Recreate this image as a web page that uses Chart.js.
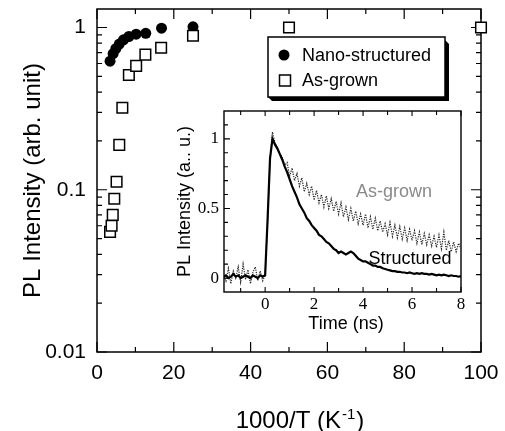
<!DOCTYPE html>
<html>
<head>
<meta charset="utf-8">
<script src="https://cdn.jsdelivr.net/npm/chart.js@4.4.0/dist/chart.umd.min.js"></script>
<style>
  html, body { margin: 0; padding: 0; background: #fff; }
  #wrap { position: relative; width: 505px; height: 431px; }
  #main { position: absolute; left: 0; top: 0; }
  #inset { position: absolute; left: 160px; top: 100px; }
</style>
</head>
<body>
<div id="wrap">
  <canvas id="main" width="505" height="431"></canvas>
  <canvas id="inset" width="320" height="240"></canvas>
</div>
<script>
const SANS = '"Liberation Sans", Arial, sans-serif';
const SERIF = '"Liberation Serif", "Times New Roman", serif';

// main plot: PL intensity vs 1000/T
const nanoX = [3.4, 4.2, 4.9, 5.8, 6.9, 8.3, 10.2, 12.7, 16.8, 25];
const nanoY = [0.62, 0.69, 0.74, 0.79, 0.84, 0.88, 0.91, 0.92, 0.99, 1.01];
const grownX = [3.4, 3.8, 4.1, 4.5, 5.1, 5.8, 6.6, 8.3, 10.2, 12.6, 16.7, 25, 50, 100];
const grownY = [0.055, 0.060, 0.070, 0.088, 0.112, 0.189, 0.32, 0.51, 0.58, 0.68, 0.75, 0.89, 1.0, 1.0];

const xTickMarks = [0, 10, 20, 30, 40, 50, 60, 70, 80, 90, 100];
const yTickValues = [0.01, 0.1, 1];
const yTickLabels = ['0.01', '0.1', '1'];
const yTickMarks = [0.01, 0.02, 0.03, 0.04, 0.05, 0.06, 0.07, 0.08, 0.09,
                    0.1, 0.2, 0.3, 0.4, 0.5, 0.6, 0.7, 0.8, 0.9, 1];

// inset: PL decay curves
const decayTime = [-1.7, -1.6, -1.5, -1.4, -1.3, -1.2, -1.1, -1.0, -0.9, -0.8, -0.7, -0.6, -0.5, -0.4, -0.3, -0.2, -0.1,
  0.0, 0.1, 0.2, 0.3, 0.4, 0.5, 0.6, 0.7, 0.8, 0.9,
  1.0, 1.1, 1.2, 1.3, 1.4, 1.5, 1.6, 1.7, 1.8, 1.9,
  2.0, 2.1, 2.2, 2.3, 2.4, 2.5, 2.6, 2.7, 2.8, 2.9,
  3.0, 3.1, 3.2, 3.3, 3.4, 3.5, 3.6, 3.7, 3.8, 3.9,
  4.0, 4.1, 4.2, 4.3, 4.4, 4.5, 4.6, 4.7, 4.8, 4.9,
  5.0, 5.1, 5.2, 5.3, 5.4, 5.5, 5.6, 5.7, 5.8, 5.9,
  6.0, 6.1, 6.2, 6.3, 6.4, 6.5, 6.6, 6.7, 6.8, 6.9,
  7.0, 7.1, 7.2, 7.3, 7.4, 7.5, 7.6, 7.7, 7.8, 7.9,
  8.0];
const structuredPL = [0.01, 0.02, 0.0, 0.01, 0.03, 0.01, 0.02, 0.0, 0.01, 0.02, 0.01, 0.0, 0.02, 0.01, 0.0, 0.02, 0.01,
  0.02, 0.42, 0.86, 1.0, 0.96, 0.93, 0.89, 0.85, 0.80, 0.76,
  0.71, 0.66, 0.62, 0.58, 0.53, 0.50, 0.47, 0.43, 0.41, 0.38,
  0.36, 0.34, 0.31, 0.30, 0.28, 0.26, 0.25, 0.23, 0.21, 0.20,
  0.18, 0.19, 0.18, 0.17, 0.18, 0.19, 0.18, 0.16, 0.14, 0.13,
  0.12, 0.12, 0.11, 0.10, 0.09, 0.09, 0.08, 0.08, 0.07, 0.065,
  0.06, 0.055, 0.05, 0.05, 0.045, 0.045, 0.04, 0.04, 0.035, 0.04,
  0.035, 0.03, 0.035, 0.03, 0.035, 0.03, 0.03, 0.025, 0.03, 0.025,
  0.02, 0.025, 0.02, 0.025, 0.02, 0.015, 0.02, 0.015, 0.015, 0.01,
  0.015];
const asGrownPL = [0.03, -0.02, 0.07, -0.04, 0.05, 0.0, 0.08, -0.03, 0.10, -0.01, 0.06, -0.04, 0.04, 0.08, -0.02, 0.05, -0.02,
  0.02, 0.40, 0.84, 1.05, 0.97, 0.94, 0.89, 0.87, 0.81, 0.83,
  0.73, 0.79, 0.70, 0.75, 0.66, 0.72, 0.62, 0.68, 0.60, 0.66,
  0.56, 0.63, 0.54, 0.60, 0.51, 0.59, 0.50, 0.57, 0.48, 0.55,
  0.46, 0.54, 0.44, 0.51, 0.42, 0.50, 0.41, 0.48, 0.39, 0.46,
  0.38, 0.46, 0.36, 0.44, 0.35, 0.43, 0.34, 0.41, 0.33, 0.39,
  0.31, 0.40, 0.30, 0.38, 0.29, 0.37, 0.28, 0.36, 0.27, 0.35,
  0.27, 0.34, 0.25, 0.33, 0.24, 0.32, 0.24, 0.31, 0.23, 0.30,
  0.22, 0.31, 0.21, 0.33, 0.20, 0.27, 0.19, 0.26, 0.19, 0.25,
  0.21];
const insetXMarks = [-1, 0, 1, 2, 3, 4, 5, 6, 7, 8];
const insetYMarks = [0, 0.1, 0.2, 0.3, 0.4, 0.5, 0.6, 0.7, 0.8, 0.9, 1.0, 1.1];

const toPoints = (xs, ys) => xs.map((x, i) => ({ x: x, y: ys[i] }));

// ticks, frame, legend and axis titles for the main plot
const mainDecor = {
  id: 'mainDecor',
  beforeDatasetsDraw(chart) {
    const { ctx, chartArea: a, scales: { x, y } } = chart;
    ctx.save();
    ctx.strokeStyle = '#000';
    ctx.lineWidth = 1.2;
    ctx.beginPath();
    xTickMarks.forEach(v => {
      const px = x.getPixelForValue(v);
      const len = v % 20 === 0 ? 10 : 5;
      ctx.moveTo(px, a.bottom); ctx.lineTo(px, a.bottom - len);
      ctx.moveTo(px, a.top); ctx.lineTo(px, a.top + len);
    });
    yTickMarks.forEach(v => {
      const py = y.getPixelForValue(v);
      const major = yTickValues.some(t => Math.abs(t - v) < 1e-9);
      const len = major ? 10 : 5;
      ctx.moveTo(a.left, py); ctx.lineTo(a.left + len, py);
      ctx.moveTo(a.right, py); ctx.lineTo(a.right - len, py);
    });
    ctx.stroke();
    ctx.lineWidth = 1.5;
    ctx.strokeRect(a.left, a.top, a.right - a.left, a.bottom - a.top);
    ctx.restore();
  },
  afterDraw(chart) {
    const { ctx, chartArea: a } = chart;
    ctx.save();
    // legend with drop shadow
    ctx.fillStyle = '#000';
    ctx.beginPath();
    ctx.moveTo(445, 40); ctx.lineTo(449, 44); ctx.lineTo(449, 101);
    ctx.lineTo(272, 101); ctx.lineTo(268, 97); ctx.lineTo(445, 97);
    ctx.closePath();
    ctx.fill();
    ctx.fillStyle = '#fff';
    ctx.fillRect(268, 37, 177, 60);
    ctx.strokeStyle = '#000';
    ctx.lineWidth = 1.5;
    ctx.strokeRect(268, 37, 177, 60);
    ctx.fillStyle = '#000';
    ctx.beginPath();
    ctx.arc(284, 55, 5.5, 0, Math.PI * 2);
    ctx.fill();
    ctx.fillStyle = '#fff';
    ctx.fillRect(279.5, 75, 11, 11);
    ctx.strokeRect(279.5, 75, 11, 11);
    ctx.fillStyle = '#000';
    ctx.font = `18px ${SANS}`;
    ctx.textAlign = 'left';
    ctx.textBaseline = 'middle';
    ctx.fillText(chart.data.datasets[0].label, 302, 56);
    ctx.fillText(chart.data.datasets[1].label, 302, 81);

    // y title
    ctx.save();
    ctx.translate(33, (a.top + a.bottom) / 2);
    ctx.rotate(-Math.PI / 2);
    ctx.textAlign = 'center';
    ctx.font = `24px ${SANS}`;
    ctx.fillText('PL Intensity (arb. unit)', 0, 0);
    ctx.restore();

    // x title with superscript
    const t1 = '1000/T (K', t2 = '-1', t3 = ')';
    ctx.textBaseline = 'alphabetic';
    ctx.font = `24px ${SANS}`;
    const w1 = ctx.measureText(t1).width;
    const w3 = ctx.measureText(t3).width;
    ctx.font = `15px ${SANS}`;
    const w2 = ctx.measureText(t2).width;
    let sx = 299 - (w1 + w2 + w3) / 2;
    ctx.font = `24px ${SANS}`;
    ctx.fillText(t1, sx, 428);
    ctx.font = `15px ${SANS}`;
    ctx.fillText(t2, sx + w1 + 1, 419);
    ctx.font = `24px ${SANS}`;
    ctx.fillText(t3, sx + w1 + w2 + 2, 428);
    ctx.restore();
  }
};

new Chart(document.getElementById('main'), {
  type: 'scatter',
  data: {
    datasets: [{
      label: 'Nano-structured',
      data: toPoints(nanoX, nanoY),
      pointStyle: 'circle',
      pointRadius: 5.5,
      backgroundColor: '#000',
      borderColor: '#000',
      borderWidth: 0,
      order: 1,
      clip: false
    }, {
      label: 'As-grown',
      data: toPoints(grownX, grownY),
      pointStyle: 'rect',
      pointRadius: 7.5,
      backgroundColor: '#fff',
      borderColor: '#000',
      borderWidth: 1.5,
      order: 0,
      clip: false
    }]
  },
  options: {
    responsive: false,
    animation: false,
    layout: { padding: { left: 0, right: 24, top: 5, bottom: 0 } },
    plugins: { legend: { display: false }, tooltip: { enabled: false } },
    scales: {
      x: {
        type: 'linear',
        min: 0,
        max: 100,
        grid: { display: false, drawTicks: false, tickLength: 0 },
        border: { display: false },
        ticks: { stepSize: 20, color: '#000', padding: 9, font: { family: SANS, size: 21 } },
        afterFit: s => { s.height = 79; s.paddingLeft = 0; s.paddingRight = 0; }
      },
      y: {
        type: 'logarithmic',
        min: 0.01,
        max: 1.3,
        grid: { display: false, drawTicks: false, tickLength: 0 },
        border: { display: false },
        ticks: {
          autoSkip: false,
          color: '#000',
          padding: 11,
          font: { family: SANS, size: 21 },
          callback: v => {
            const i = yTickValues.findIndex(t => Math.abs(t - v) / t < 1e-6);
            return i >= 0 ? yTickLabels[i] : '';
          }
        },
        afterFit: s => { s.width = 97; s.paddingTop = 0; s.paddingBottom = 0; }
      }
    }
  },
  plugins: [mainDecor]
});

// inset decorations
const insetDecor = {
  id: 'insetDecor',
  beforeDatasetsDraw(chart) {
    const { ctx, chartArea: a, scales: { x, y } } = chart;
    ctx.save();
    ctx.strokeStyle = '#000';
    ctx.lineWidth = 1.1;
    ctx.beginPath();
    insetXMarks.forEach(v => {
      const px = x.getPixelForValue(v);
      const len = v % 2 === 0 ? 5 : 4;
      ctx.moveTo(px, a.bottom); ctx.lineTo(px, a.bottom - len);
      ctx.moveTo(px, a.top); ctx.lineTo(px, a.top + len);
    });
    insetYMarks.forEach(v => {
      const py = y.getPixelForValue(v);
      const major = Math.abs(v * 2 - Math.round(v * 2)) < 1e-9;
      ctx.moveTo(a.left, py); ctx.lineTo(a.left + (major ? 6 : 4), py);
    });
    ctx.stroke();
    ctx.lineWidth = 1.4;
    ctx.strokeRect(a.left, a.top, a.right - a.left, a.bottom - a.top);
    ctx.restore();
  },
  afterDraw(chart) {
    const { ctx, chartArea: a } = chart;
    ctx.save();
    ctx.fillStyle = '#000';
    ctx.font = `18px ${SANS}`;
    ctx.textAlign = 'center';
    ctx.textBaseline = 'middle';
    ctx.fillText('Time (ns)', 186, 224);
    ctx.save();
    ctx.translate(25, (a.top + a.bottom) / 2);
    ctx.rotate(-Math.PI / 2);
    ctx.fillText('PL Intensity (a.. u.)', 0, 0);
    ctx.restore();
    ctx.fillStyle = '#8a8a8a';
    ctx.fillText(chart.data.datasets[1].label, 234, 92);
    ctx.fillStyle = '#000';
    ctx.fillText(chart.data.datasets[0].label, 250, 159);
    ctx.restore();
  }
};

new Chart(document.getElementById('inset'), {
  type: 'line',
  data: {
    datasets: [{
      label: 'Structured',
      data: toPoints(decayTime, structuredPL),
      borderColor: '#000',
      borderWidth: 2.2,
      pointRadius: 0,
      tension: 0,
      order: 0
    }, {
      label: 'As-grown',
      data: toPoints(decayTime, asGrownPL),
      borderColor: '#222',
      borderWidth: 1.2,
      borderDash: [1.2, 1.2],
      pointRadius: 0,
      tension: 0,
      order: 1
    }]
  },
  options: {
    responsive: false,
    animation: false,
    layout: { padding: { left: 0, right: 19, top: 11, bottom: 0 } },
    plugins: { legend: { display: false }, tooltip: { enabled: false } },
    scales: {
      x: {
        type: 'linear',
        min: -1.68,
        max: 8,
        grid: { display: false, drawTicks: false, tickLength: 0 },
        border: { display: false },
        ticks: {
          stepSize: 2,
          includeBounds: false,
          color: '#000',
          padding: 2,
          font: { family: SERIF, size: 17 },
          callback: v => (v >= 0 ? String(v) : '')
        },
        afterFit: s => { s.height = 48; s.paddingLeft = 0; s.paddingRight = 0; }
      },
      y: {
        type: 'linear',
        min: -0.1,
        max: 1.2,
        grid: { display: false, drawTicks: false, tickLength: 0 },
        border: { display: false },
        ticks: {
          stepSize: 0.5,
          includeBounds: false,
          color: '#000',
          padding: 5,
          font: { family: SERIF, size: 17 },
          callback: v => (v >= 0 ? String(Math.round(v * 10) / 10) : '')
        },
        afterFit: s => { s.width = 64; s.paddingTop = 0; s.paddingBottom = 0; }
      }
    }
  },
  plugins: [insetDecor]
});
</script>
</body>
</html>
